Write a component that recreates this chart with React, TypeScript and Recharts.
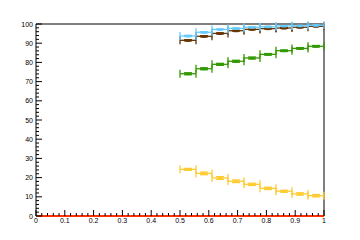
import {
  ComposedChart,
  Scatter,
  Line,
  ErrorBar,
  XAxis,
  YAxis,
  ReferenceLine,
} from 'recharts';

// bin centres (9 bins between 0.5 and 1)
const binCenters = [0.5278, 0.5833, 0.6389, 0.6944, 0.75, 0.8056, 0.8611, 0.9167, 0.9722];
const halfBin = 1 / 36;

const blueValues = [93.8, 95.7, 97.2, 97.7, 98.3, 98.6, 99.0, 99.1, 99.3];
const blueErrors = [0.3, 0.3, 0.2, 0.2, 0.2, 0.2, 0.2, 0.1, 0.1];
const brownValues = [91.5, 93.6, 95.1, 96.5, 97.2, 97.6, 97.9, 98.3, 98.8];
const brownErrors = [0.3, 0.3, 0.3, 0.2, 0.2, 0.2, 0.2, 0.2, 0.1];
const greenValues = [74.1, 76.7, 79.0, 80.6, 82.3, 84.2, 86.1, 87.3, 88.4];
const greenErrors = [0.5, 0.5, 0.5, 0.5, 0.5, 0.4, 0.4, 0.4, 0.4];
const yellowValues = [24.3, 22.2, 19.8, 18.1, 16.5, 14.4, 12.9, 11.5, 10.6];
const yellowErrors = [0.5, 0.7, 0.7, 0.7, 0.6, 0.6, 0.5, 0.6, 0.6];

// empty histogram drawn across the whole range
const redX = [0, 1];
const redValues = [0, 0];

const xMajorTicks = [0, 0.1, 0.2, 0.3, 0.4, 0.5, 0.6, 0.7, 0.8, 0.9, 1];
const xTickLabels = ['0', '0.1', '0.2', '0.3', '0.4', '0.5', '0.6', '0.7', '0.8', '0.9', '1'];
const yMajorTicks = [0, 10, 20, 30, 40, 50, 60, 70, 80, 90, 100];
const yTickLabels = ['0', '10', '20', '30', '40', '50', '60', '70', '80', '90', '100'];

// 4 minor divisions between each major tick
const withMinor = (majors: number[]) => {
  const out: number[] = [];
  for (let i = 0; i < majors.length - 1; i++) {
    const step = (majors[i + 1] - majors[i]) / 5;
    for (let k = 0; k < 5; k++) out.push(+(majors[i] + k * step).toFixed(4));
  }
  out.push(majors[majors.length - 1]);
  return out;
};
const xTicks = withMinor(xMajorTicks);
const yTicks = withMinor(yMajorTicks);

const COLORS = {
  blue: '#66ccff',
  brown: '#663300',
  green: '#339900',
  yellow: '#ffcc33',
  red: '#ff3300',
};

const FONT = '"Liberation Sans", Arial, sans-serif';

const toPoints = (values: number[], errors: number[]) =>
  values.map((v, i) => ({ x: binCenters[i], y: v, ex: halfBin, ey: errors[i] }));

const redData = redX.map((x, i) => ({ x, y: redValues[i] }));

function XTick(props: any) {
  const { x, y, payload } = props;
  const idx = xMajorTicks.findIndex((m) => Math.abs(m - payload.value) < 1e-6);
  const major = idx >= 0;
  return (
    <g>
      <line x1={x} x2={x} y1={y} y2={y - (major ? 6 : 3)} stroke="#000" strokeWidth={1} />
      {major && (
        <text x={x} y={y + 7} textAnchor="middle" fontSize={7} fontFamily={FONT} fill="#000">
          {xTickLabels[idx]}
        </text>
      )}
    </g>
  );
}

function YTick(props: any) {
  const { x, y, payload } = props;
  const idx = yMajorTicks.findIndex((m) => Math.abs(m - payload.value) < 1e-6);
  const major = idx >= 0;
  return (
    <g>
      <line x1={x} x2={x + (major ? 6 : 3)} y1={y} y2={y} stroke="#000" strokeWidth={1} />
      {major && (
        <text x={x - 3} y={y + 2.5} textAnchor="end" fontSize={7} fontFamily={FONT} fill="#000">
          {yTickLabels[idx]}
        </text>
      )}
    </g>
  );
}

function marker(color: string) {
  return (p: any) => <rect x={p.cx - 2.5} y={p.cy - 1} width={5} height={2.5} fill={color} />;
}

const series = [
  { name: 'yellow', color: COLORS.yellow, data: toPoints(yellowValues, yellowErrors) },
  { name: 'green', color: COLORS.green, data: toPoints(greenValues, greenErrors) },
  { name: 'brown', color: COLORS.brown, data: toPoints(brownValues, brownErrors) },
  { name: 'blue', color: COLORS.blue, data: toPoints(blueValues, blueErrors) },
];

export default function App() {
  return (
    <div style={{ position: 'absolute', left: 0, top: 0, width: 360, height: 240, background: '#fff' }}>
      <ComposedChart width={360} height={240} margin={{ top: 24, right: 36, bottom: 0, left: 0 }}>
        <XAxis
          type="number"
          dataKey="x"
          domain={[0, 1]}
          ticks={xTicks}
          interval={0}
          height={24}
          tickSize={0}
          tickMargin={0}
          tickLine={false}
          axisLine={false}
          tick={<XTick />}
        />
        <YAxis
          type="number"
          dataKey="y"
          domain={[0, 100]}
          ticks={yTicks}
          interval={0}
          width={36}
          tickSize={0}
          tickMargin={0}
          tickLine={false}
          axisLine={{ stroke: '#000', strokeWidth: 1 }}
          tick={<YTick />}
        />
        <ReferenceLine y={100} stroke="#000" strokeWidth={1} />
        <ReferenceLine x={1} stroke="#000" strokeWidth={1} />
        {series.map((s) => (
          <Scatter
            key={s.name}
            data={s.data}
            fill={s.color}
            shape={marker(s.color)}
            isAnimationActive={false}
          >
            <ErrorBar dataKey="ex" direction="x" width={4} stroke={s.color} strokeWidth={1.3} isAnimationActive={false} />
            <ErrorBar dataKey="ey" direction="y" width={4} stroke={s.color} strokeWidth={1.3} isAnimationActive={false} />
          </Scatter>
        ))}
        <Line
          data={redData}
          dataKey="y"
          stroke={COLORS.red}
          strokeWidth={2}
          dot={false}
          activeDot={false}
          isAnimationActive={false}
        />
      </ComposedChart>
    </div>
  );
}
